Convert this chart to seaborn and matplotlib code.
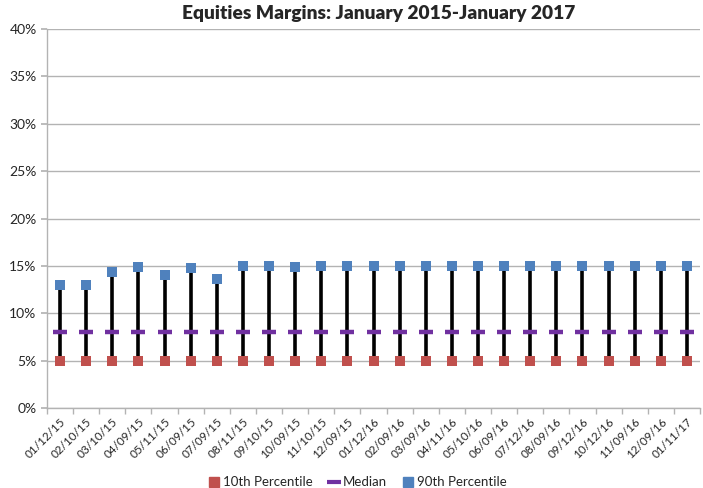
import matplotlib
matplotlib.use("Agg")
import matplotlib.pyplot as plt
import numpy as np
import pandas as pd
import seaborn as sns
from matplotlib.lines import Line2D
from matplotlib.ticker import FixedLocator, PercentFormatter

# Data
dates = ["01/12/15", "02/10/15", "03/10/15", "04/09/15", "05/11/15", "06/09/15",
         "07/09/15", "08/11/15", "09/10/15", "10/09/15", "11/10/15", "12/09/15",
         "01/12/16", "02/09/16", "03/09/16", "04/11/16", "05/10/16", "06/09/16",
         "07/12/16", "08/09/16", "09/12/16", "10/12/16", "11/09/16", "12/09/16",
         "01/11/17"]
p10 = [5.0] * 25
median = [8.0] * 25
p90 = [13.0, 13.0, 14.4, 14.9, 14.0, 14.8, 13.6, 15.0, 15.0, 14.9, 15.0, 15.0,
       15.0, 15.0, 15.0, 15.0, 15.0, 15.0, 15.0, 15.0, 15.0, 15.0, 15.0, 15.0,
       15.0]

red = "#C0504D"
purple = "#7030A0"
blue = "#4F81BD"
grid_grey = "#B3B3B3"

sns.set_theme(style="white")
plt.rcParams["font.family"] = ["Lato", "DejaVu Sans"]

df = pd.DataFrame({"date": dates, "p10": p10, "median": median, "p90": p90})
df["pos"] = np.arange(len(df))

fig = plt.figure(figsize=(7.03, 4.88), dpi=100)
ax = fig.add_axes([47 / 703, 1 - 408 / 488, (700 - 47) / 703, (408 - 29) / 488])

# high-low lines
ax.vlines(df["pos"], df["p10"], df["p90"], color="black", linewidth=2.6, zorder=2)

sns.scatterplot(data=df, x="pos", y="p10", marker="s", s=42, color=red,
                edgecolor=red, linewidth=0, ax=ax, zorder=3)
sns.scatterplot(data=df, x="pos", y="median", marker="_", s=90, linewidth=3.2,
                color=purple, ax=ax, zorder=3)
sns.scatterplot(data=df, x="pos", y="p90", marker="s", s=42, color=blue,
                edgecolor=blue, linewidth=0, ax=ax, zorder=3)

ax.set_xlim(-0.5, len(dates) - 0.5)
ax.set_ylim(0, 40)
ax.set_yticks(np.arange(0, 41, 5))
ax.yaxis.set_major_formatter(PercentFormatter(decimals=0))
ax.grid(axis="y", color=grid_grey, linewidth=1)
ax.set_axisbelow(True)

ax.set_xticks(df["pos"])
ax.set_xticklabels(dates, rotation=45, ha="right", rotation_mode="anchor", fontsize=8.5)
ax.xaxis.set_minor_locator(FixedLocator(np.arange(-0.5, len(dates), 1)))
ax.tick_params(axis="x", which="major", length=0, pad=6)
ax.tick_params(axis="x", which="minor", length=4, color=grid_grey, direction="out", bottom=True)
ax.tick_params(axis="y", length=4, color=grid_grey, direction="out", left=True, labelsize=10)

ax.set_xlabel("")
ax.set_ylabel("")
for side in ["top", "right"]:
    ax.spines[side].set_visible(False)
for side in ["left", "bottom"]:
    ax.spines[side].set_color(grid_grey)
    ax.spines[side].set_linewidth(1)

fig.suptitle("Equities Margins: January 2015-January 2017", x=0.538, y=0.99,
             fontsize=13.8, fontweight="heavy")

handles = [
    Line2D([], [], marker="s", linestyle="none", color=red, markersize=7),
    Line2D([], [], marker="_", linestyle="none", color=purple, markersize=10, markeredgewidth=3),
    Line2D([], [], marker="s", linestyle="none", color=blue, markersize=7),
]
fig.legend(handles, ["10th Percentile", "Median", "90th Percentile"], loc="lower center",
           bbox_to_anchor=(0.508, -0.025), ncol=3, frameon=False, fontsize=9.5,
           handletextpad=0.2, columnspacing=1.1, handlelength=1)

fig.savefig("out.png", dpi=100)
